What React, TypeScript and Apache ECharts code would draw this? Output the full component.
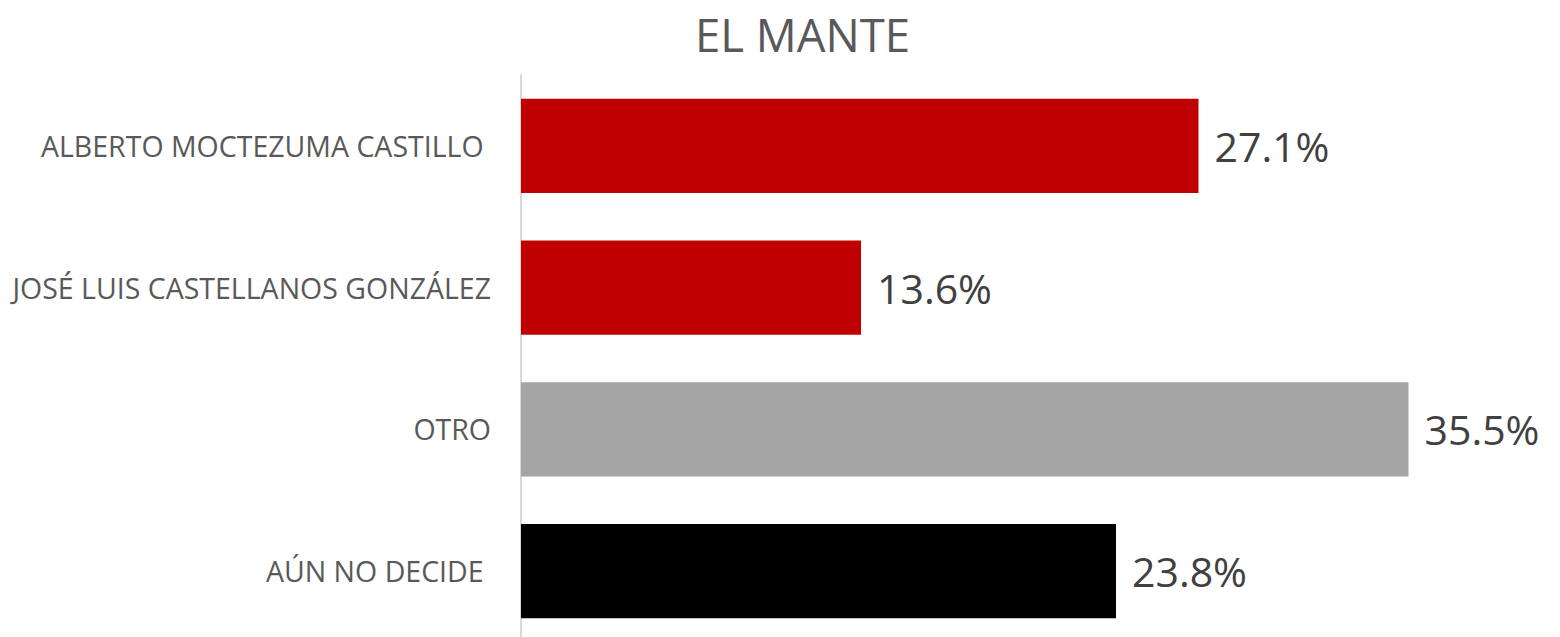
import React, { useEffect, useRef } from "react";
import * as echarts from "echarts";

const categories = [
  "ALBERTO MOCTEZUMA CASTILLO ",
  "JOSÉ LUIS CASTELLANOS GONZÁLEZ",
  "OTRO",
  "AÚN NO DECIDE ",
];
const values = [27.1, 13.6, 35.5, 23.8];
const colors = ["#C00000", "#C00000", "#A5A5A5", "#000000"];
const title = "EL MANTE";

export default function App() {
  const ref = useRef<HTMLDivElement>(null);
  useEffect(() => {
    if (!ref.current) return;
    const chart = echarts.init(ref.current, null, { renderer: "svg" });
    chart.setOption({
      animation: false,
      title: {
        text: title,
        left: 690,
        top: 6,
        textStyle: {
          fontFamily: "Open Sans",
          fontSize: 45.5,
          fontWeight: "normal",
          color: "#595959",
        },
      },
      grid: { left: 521, width: 1000, top: 75, height: 567, containLabel: false },
      xAxis: {
        type: "value",
        min: 0,
        max: 40,
        show: false,
      },
      yAxis: {
        type: "category",
        inverse: true,
        data: categories,
        axisLine: { show: true, lineStyle: { color: "#D9D9D9", width: 2 } },
        axisTick: { show: false },
        axisLabel: {
          margin: 30,
          fontFamily: "Open Sans",
          fontSize: 28.5,
          color: "#595959",
        },
      },
      series: [
        {
          type: "bar",
          barCategoryGap: "33.5%",
          data: values.map((v, i) => ({ value: v, itemStyle: { color: colors[i] } })),
          label: {
            show: true,
            position: "right",
            distance: 16,
            formatter: (p: any) => p.value.toFixed(1) + "%",
            fontFamily: "Open Sans",
            fontSize: 41,
            color: "#404040",
          },
        },
      ],
    });
    return () => chart.dispose();
  }, []);
  return (
    <div
      style={{ position: "absolute", left: 0, top: 0, width: 1560, height: 637, overflow: "hidden" }}
    >
      <div ref={ref} style={{ width: 1560, height: 650 }} />
    </div>
  );
}
